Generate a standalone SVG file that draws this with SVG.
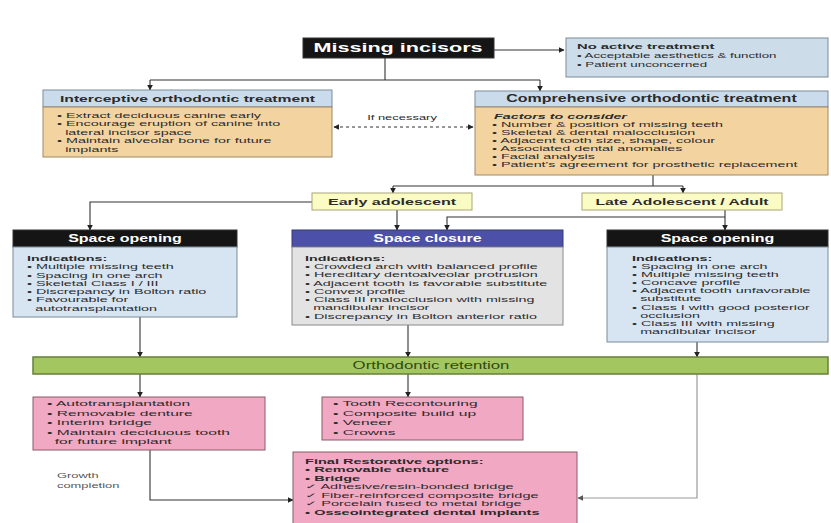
<svg xmlns="http://www.w3.org/2000/svg" width="831" height="523" viewBox="0 0 831 523">
<defs>
<marker id="ah" viewBox="0 0 10 10" refX="9" refY="5" markerWidth="6" markerHeight="6" orient="auto-start-reverse" markerUnits="userSpaceOnUse"><path d="M0,0 L10,5 L0,10 z" fill="#222"/></marker>
<marker id="ahg" viewBox="0 0 10 10" refX="9" refY="5" markerWidth="6" markerHeight="6" orient="auto" markerUnits="userSpaceOnUse"><path d="M0,0 L10,5 L0,10 z" fill="#555"/></marker>
</defs>
<style>
text{font-family:"Liberation Sans","DejaVu Sans",Arial,sans-serif;fill:#2b2b2b}
.s{font-size:7px}
.p{font-size:8px}
.b{font-weight:bold}
.hd{font-weight:bold;font-size:9.8px}
.w{fill:#fff}
.c{text-anchor:middle}
.ln{fill:none;stroke:#333;stroke-width:1.1}
.lg{fill:none;stroke:#9a9a9a;stroke-width:1.2}
.blk{fill:#151515;stroke:#333}
.lb{fill:#cadcec;stroke:#7d8b99;stroke-width:1}
.lbb{fill:#d6e5f1;stroke:#7d8b99;stroke-width:1}
.or{fill:#f3d4a0;stroke:#a08866;stroke-width:1}
.gr{fill:#e3e3e3;stroke:#8a8a8a;stroke-width:1}
.pu{fill:#4d50a8;stroke:#333a70;stroke-width:1}
.ye{fill:#fbfbc4;stroke:#a8a878;stroke-width:1}
.gn{fill:#a4c660;stroke:#66803a;stroke-width:1.5}
.pk{fill:#f1a8c2;stroke:#8a5a68;stroke-width:1}
</style>

<g id="connectors">
<line class="ln" x1="494" y1="50" x2="564" y2="50" marker-end="url(#ah)"/>
<polyline class="ln" points="385,58 385,80"/>
<polyline class="ln" points="150,80 540,80"/>
<line class="ln" x1="150" y1="80" x2="150" y2="90" marker-end="url(#ah)"/>
<line class="ln" x1="540" y1="80" x2="540" y2="91" marker-end="url(#ah)"/>
<line class="ln" x1="334" y1="127" x2="473" y2="127" stroke-dasharray="3,3" stroke-width="1.6" marker-start="url(#ah)" marker-end="url(#ah)"/>
<polyline class="ln" points="653,175 653,186"/>
<polyline class="ln" points="393,186 683,186"/>
<line class="ln" x1="393" y1="186" x2="393" y2="193" marker-end="url(#ah)"/>
<line class="ln" x1="683" y1="186" x2="683" y2="193" marker-end="url(#ah)"/>
<polyline class="ln" points="312,202 90,202 90,230" marker-end="url(#ah)"/>
<line class="ln" x1="397" y1="210" x2="397" y2="230" marker-end="url(#ah)"/>
<line class="ln" x1="725" y1="210" x2="725" y2="230" marker-end="url(#ah)"/>
<polyline class="ln" points="725,217 447,217 447,230" marker-end="url(#ah)"/>
<line class="ln" x1="140" y1="317" x2="140" y2="357" marker-end="url(#ah)"/>
<line class="ln" x1="408" y1="325" x2="408" y2="357" marker-end="url(#ah)"/>
<line class="ln" x1="697" y1="342" x2="697" y2="357" marker-end="url(#ah)"/>
<line class="ln" x1="140" y1="374" x2="140" y2="397" marker-end="url(#ah)"/>
<line class="ln" x1="408" y1="374" x2="408" y2="397" marker-end="url(#ah)"/>
<polyline class="ln" points="150,450 150,500 293,500" marker-end="url(#ah)"/>
<polyline class="lg" points="697,374 697,498 578,498" marker-end="url(#ahg)"/>
</g>

<g id="lbl-if-necessary"><text transform="translate(402 0) scale(1.75 1)" x="0" y="120" text-anchor="middle" style="font-size:7.4px">If necessary</text></g>
<g id="lbl-growth"><g transform="translate(57 0) scale(1.7 1)"><text x="0" y="478" style="font-size:7.6px;fill:#555">Growth</text><text x="0" y="488" style="font-size:7.6px;fill:#555">completion</text></g></g>

<g id="missing-incisors">
<rect class="blk" x="303" y="38" width="191" height="20"/>
<text class="b w c" transform="translate(398 0) scale(1.8 1)" x="0" y="52.5" style="font-size:12px">Missing incisors</text>
</g>

<g id="no-active-treatment">
<rect class="lbb" x="566" y="38" width="262" height="39" style="fill:#ccdce9"/>
<g transform="translate(577 0) scale(1.9 1)">
<text class="b" x="0" y="49" style="font-size:7.8px">No active treatment</text>
<text class="s" x="0" y="58.5">• Acceptable aesthetics &amp; function</text>
<text class="s" x="0" y="67">• Patient unconcerned</text>
</g>
</g>

<g id="interceptive">
<rect class="lb" x="43" y="90" width="289" height="17"/>
<text class="hd c" transform="translate(187.5 0) scale(1.6 1)" x="0" y="102">Interceptive orthodontic treatment</text>
<rect class="or" x="43" y="107" width="289" height="50"/>
<g transform="translate(57 0) scale(2.05 1)">
<text class="s" x="0" y="118">• Extract deciduous canine early</text>
<text class="s" x="0" y="126.5">• Encourage eruption of canine into</text>
<text class="s" x="4" y="135">lateral incisor space</text>
<text class="s" x="0" y="143.5">• Maintain alveolar bone for future</text>
<text class="s" x="4" y="152">implants</text>
</g>
</g>

<g id="comprehensive">
<rect class="lb" x="475" y="91" width="353" height="16"/>
<text class="hd c" transform="translate(651.5 0) scale(1.6 1)" x="0" y="102.5" style="font-size:10px">Comprehensive orthodontic treatment</text>
<rect class="or" x="475" y="107" width="353" height="68"/>
<g transform="translate(492 0) scale(2.05 1)">
<text class="s b" x="1" y="119" font-style="italic">Factors to consider</text>
<text class="s" x="0" y="127.5">• Number &amp; position of missing teeth</text>
<text class="s" x="0" y="135.5">• Skeletal &amp; dental malocclusion</text>
<text class="s" x="0" y="143.5">• Adjacent tooth size, shape, colour</text>
<text class="s" x="0" y="151.5">• Associated dental anomalies</text>
<text class="s" x="0" y="159.5">• Facial analysis</text>
<text class="s" x="0" y="167.5">• Patient's agreement for prosthetic replacement</text>
</g>
</g>

<g id="early-adolescent">
<rect class="ye" x="312" y="193" width="160" height="17"/>
<text class="b c" transform="translate(392 0) scale(1.7 1)" x="0" y="205" style="font-size:9.5px">Early adolescent</text>
</g>

<g id="late-adolescent">
<rect class="ye" x="582" y="193" width="200" height="17"/>
<text class="b c" transform="translate(682 0) scale(1.65 1)" x="0" y="205" style="font-size:9.5px">Late Adolescent / Adult</text>
</g>

<g id="space-opening-left">
<rect class="blk" x="13" y="230" width="224" height="17"/>
<text class="b w c" transform="translate(125 0) scale(1.6 1)" x="0" y="242" style="font-size:10px">Space opening</text>
<rect class="lbb" x="13" y="247" width="224" height="70"/>
<g transform="translate(27 0) scale(2.05 1)">
<text class="s b" x="0" y="261">Indications:</text>
<text class="s" x="0" y="269.5">• Multiple missing teeth</text>
<text class="s" x="0" y="278">• Spacing in one arch</text>
<text class="s" x="0" y="286">• Skeletal Class I / III</text>
<text class="s" x="0" y="294.5">• Discrepancy in Bolton ratio</text>
<text class="s" x="0" y="302.5">• Favourable for</text>
<text class="s" x="4" y="311">autotransplantation</text>
</g>
</g>

<g id="space-closure">
<rect class="pu" x="292" y="230" width="271" height="17"/>
<text class="b w c" transform="translate(427.5 0) scale(1.6 1)" x="0" y="242" style="font-size:10px">Space closure</text>
<rect class="gr" x="292" y="247" width="271" height="78"/>
<g transform="translate(305 0) scale(2.05 1)">
<text class="s b" x="0" y="261">Indications:</text>
<text class="s" x="0" y="269.5">• Crowded arch with balanced profile</text>
<text class="s" x="0" y="277.5">• Hereditary dentoalveolar protrusion</text>
<text class="s" x="0" y="286">• Adjacent tooth is favorable substitute</text>
<text class="s" x="0" y="294">• Convex profile</text>
<text class="s" x="0" y="302.5">• Class III malocclusion with missing</text>
<text class="s" x="4" y="310.5">mandibular incisor</text>
<text class="s" x="0" y="319">• Discrepancy in Bolton anterior ratio</text>
</g>
</g>

<g id="space-opening-right">
<rect class="blk" x="607" y="230" width="221" height="17"/>
<text class="b w c" transform="translate(717.5 0) scale(1.6 1)" x="0" y="242" style="font-size:10px">Space opening</text>
<rect class="lbb" x="607" y="247" width="221" height="95"/>
<g transform="translate(632 0) scale(2.05 1)">
<text class="s b" x="0" y="261">Indications:</text>
<text class="s" x="0" y="269.5">• Spacing in one arch</text>
<text class="s" x="0" y="277.5">• Multiple missing teeth</text>
<text class="s" x="0" y="285.5">• Concave profile</text>
<text class="s" x="0" y="293.5">• Adjacent tooth unfavorable</text>
<text class="s" x="4" y="301.5">substitute</text>
<text class="s" x="0" y="310">• Class I with good posterior</text>
<text class="s" x="4" y="318">occlusion</text>
<text class="s" x="0" y="326.5">• Class III with missing</text>
<text class="s" x="4" y="334.5">mandibular incisor</text>
</g>
</g>

<g id="orthodontic-retention">
<rect class="gn" x="33" y="357" width="795" height="17"/>
<text class="c" transform="translate(431 0) scale(1.68 1)" x="0" y="369.5" style="font-size:10px;fill:#2e4a12">Orthodontic retention</text>
</g>

<g id="interim-options">
<rect class="pk" x="33" y="397" width="232" height="53"/>
<g transform="translate(47 0) scale(1.95 1)">
<text class="p" x="0" y="406.5">• Autotransplantation</text>
<text class="p" x="0" y="416">• Removable denture</text>
<text class="p" x="0" y="425.5">• Interim bridge</text>
<text class="p" x="0" y="435">• Maintain deciduous tooth</text>
<text class="p" x="4" y="444.5">for future implant</text>
</g>
</g>

<g id="restorative-camouflage">
<rect class="pk" x="322" y="397" width="201" height="43"/>
<g transform="translate(333 0) scale(1.95 1)">
<text class="p" x="0" y="406.5">• Tooth Recontouring</text>
<text class="p" x="0" y="416">• Composite build up</text>
<text class="p" x="0" y="425.5">• Veneer</text>
<text class="p" x="0" y="435">• Crowns</text>
</g>
</g>

<g id="final-restorative">
<rect class="pk" x="293" y="452" width="284" height="80"/>
<g transform="translate(305 0) scale(2.08 1)">
<text class="s b" x="0" y="464">Final Restorative options:</text>
<text class="s b" x="0" y="472.5">• Removable denture</text>
<text class="s b" x="0" y="481">• Bridge</text>
<text class="s" x="0" y="489.5">✓ Adhesive/resin-bonded bridge</text>
<text class="s" x="0" y="498">✓ Fiber-reinforced composite bridge</text>
<text class="s" x="0" y="506.5">✓ Porcelain fused to metal bridge</text>
<text class="s b" x="0" y="515">• Osseointegrated dental implants</text>
</g>
</g>
</svg>
